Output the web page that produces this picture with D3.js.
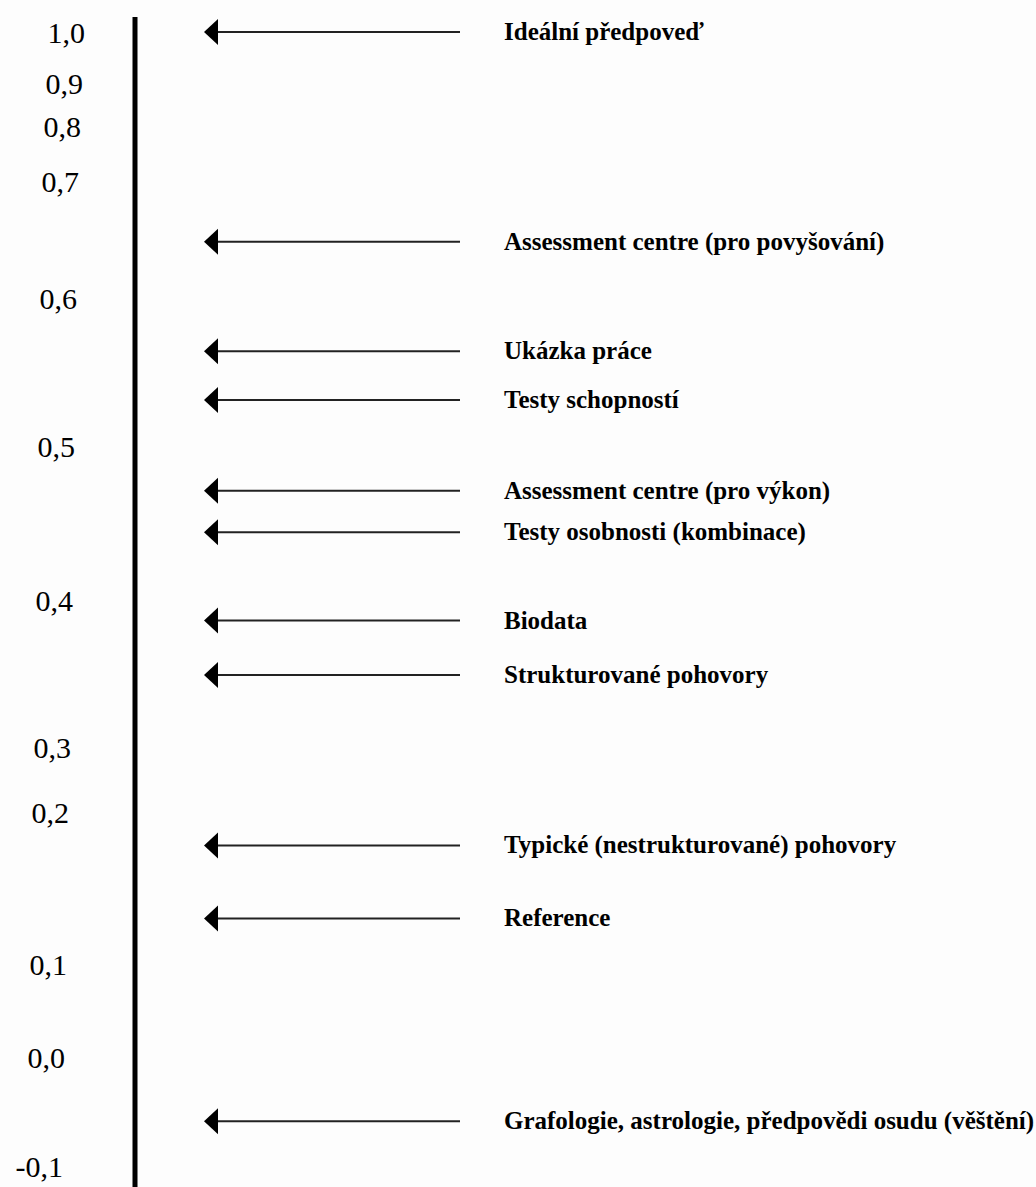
<!DOCTYPE html>
<html>
<head>
<meta charset="utf-8">
<script src="https://cdn.jsdelivr.net/npm/d3@7"></script>
<style>
  html, body { margin: 0; padding: 0; background: #fdfdfd; }
  svg { display: block; }
</style>
</head>
<body>
<script>
// ---- Data ----
const tickValues = [1.0, 0.9, 0.8, 0.7, 0.6, 0.5, 0.4, 0.3, 0.2, 0.1, 0.0, -0.1];
const tickLabels = ["1,0", "0,9", "0,8", "0,7", "0,6", "0,5", "0,4", "0,3", "0,2", "0,1", "0,0", "-0,1"];

const methods = [
  "Ideální předpoveď",
  "Assessment centre (pro povyšování)",
  "Ukázka práce",
  "Testy schopností",
  "Assessment centre (pro výkon)",
  "Testy osobnosti (kombinace)",
  "Biodata",
  "Strukturované pohovory",
  "Typické (nestrukturované) pohovory",
  "Reference",
  "Grafologie, astrologie, předpovědi osudu (věštění)"
];
const validity = [1.0, 0.648, 0.564, 0.531, 0.471, 0.444, 0.386, 0.349, 0.178, 0.130, -0.059];

// ---- Layout ----
const W = 1036, H = 1187;
const axisX = 135;

// The original scale is hand-drawn (uneven spacing); reproduce it piecewise.
const y = d3.scaleLinear()
  .domain(tickValues)
  .range([32, 83, 126, 181, 298, 446, 600, 747, 812, 964, 1057, 1166]);

// label right edge drifts left going down in the original
const labelRight = d3.scaleLinear().domain([1.0, -0.1]).range([85, 63]);

const svg = d3.select("body").append("svg")
  .attr("width", W).attr("height", H)
  .style("background", "#fdfdfd");

// Axis (labels only, no tick marks)
const axis = d3.axisLeft(y)
  .tickValues(tickValues)
  .tickFormat((d, i) => tickLabels[i])
  .tickSize(0);

const gAxis = svg.append("g")
  .attr("transform", `translate(${axisX},0)`)
  .call(axis);
gAxis.select(".domain").remove();
gAxis.selectAll(".tick text")
  .attr("x", d => labelRight(d) - axisX)
  .attr("dy", "0.36em")
  .attr("fill", "#000")
  .style("font-family", "'Liberation Serif', 'Times New Roman', serif")
  .style("font-size", "30px");

// Thick vertical axis line
svg.append("line")
  .attr("x1", axisX).attr("x2", axisX)
  .attr("y1", y(1.0) - 15).attr("y2", H)
  .attr("stroke", "#000")
  .attr("stroke-width", 5);

// Arrows
const tipX = 204, tailX = 460, headW = 14, headH = 13;
const rows = methods.map((m, i) => ({ name: m, v: validity[i] }));

const g = svg.append("g").selectAll("g.arrow")
  .data(rows).join("g").attr("class", "arrow");

g.append("line")
  .attr("x1", tipX + headW - 2).attr("x2", tailX)
  .attr("y1", d => y(d.v)).attr("y2", d => y(d.v))
  .attr("stroke", "#222")
  .attr("stroke-width", 2);

g.append("path")
  .attr("d", d => {
    const yy = y(d.v);
    return `M${tipX},${yy} L${tipX + headW},${yy - headH} L${tipX + headW},${yy + headH} Z`;
  })
  .attr("fill", "#000");

g.append("text")
  .attr("x", 504)
  .attr("y", d => y(d.v) + 8)
  .text(d => d.name)
  .attr("fill", "#000")
  .style("font-family", "'Liberation Serif', 'Times New Roman', serif")
  .style("font-weight", "bold")
  .style("font-size", "25px");
</script>
</body>
</html>
